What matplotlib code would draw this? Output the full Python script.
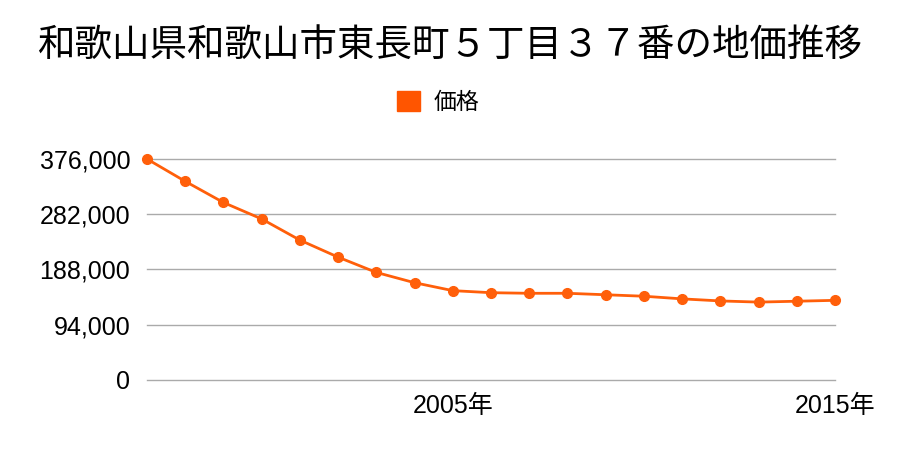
import matplotlib
matplotlib.use("Agg")
import matplotlib.pyplot as plt

plt.rcParams['font.family'] = ['Noto Sans CJK JP', 'DejaVu Sans']

years = list(range(1997, 2016))
prices = [376000, 338000, 302000, 274000, 238000, 209000, 183000, 165500, 152000,
          148500, 147500, 147500, 145000, 142500, 138000, 134500, 132500, 134000, 135500]
yticks = [0, 94000, 188000, 282000, 376000]
xticks = [2005, 2015]

fig = plt.figure(figsize=(9, 4.5), dpi=100)
ax = fig.add_axes([0.1633, 0.1556, 0.7645, 0.4911])

ax.plot(years, prices, color='#ff5f0a', linewidth=2, marker='o', markersize=7,
        label='価格', clip_on=False, zorder=3)

ax.set_xlim(1997, 2015)
ax.set_ylim(0, 376000)
ax.set_yticks(yticks)
ax.set_yticklabels([f'{v:,}' for v in yticks])
ax.set_xticks(xticks)
ax.set_xticklabels([f'{x}年' for x in xticks])
ax.grid(axis='y', color='#aaaaaa', linewidth=1)
for gl in ax.get_ygridlines():
    gl.set_clip_on(False)
ax.set_axisbelow(True)
for s in ax.spines.values():
    s.set_visible(False)
ax.tick_params(length=0, colors='black')
ax.tick_params(axis='y', pad=12)
ax.tick_params(axis='x', pad=10)
for lbl in ax.get_xticklabels() + ax.get_yticklabels():
    lbl.set_family(['Liberation Sans', 'Noto Sans CJK JP'])
    lbl.set_fontsize(18)

fig.text(0.5, 0.9, '和歌山県和歌山市東長町５丁目３７番の地価推移', ha='center', va='center', fontsize=27)

handle = plt.Rectangle((0, 0), 1, 1, color='#ff5500')
fig.legend([handle], ['価格'], loc='center', bbox_to_anchor=(0.4867, 0.773), frameon=False,
           fontsize=16.5, handlelength=1.0, handleheight=1.0, handletextpad=0.57)

fig.savefig('out.png', dpi=100)
